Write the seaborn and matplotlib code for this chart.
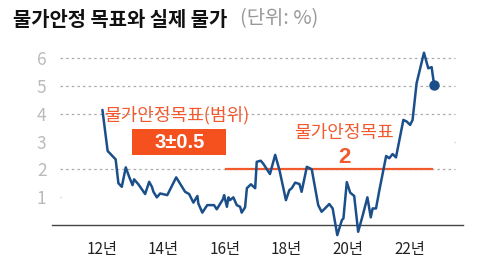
import matplotlib
matplotlib.use("Agg")
import matplotlib.pyplot as plt
from matplotlib.patches import Rectangle
import seaborn as sns
import pandas as pd

years = [2012.01, 2012.18, 2012.44, 2012.53, 2012.64, 2012.77, 2012.88, 2012.99, 2013.04, 2013.18,
         2013.40, 2013.53, 2013.62, 2013.67, 2013.78, 2013.89, 2014.12, 2014.41, 2014.70, 2014.83,
         2014.97, 2015.10, 2015.13, 2015.26, 2015.42, 2015.64, 2015.73, 2015.93, 2015.97, 2016.06,
         2016.11, 2016.16, 2016.27, 2016.38, 2016.49, 2016.54, 2016.65, 2016.71, 2016.84, 2016.98,
         2017.03, 2017.16, 2017.25, 2017.46, 2017.63, 2017.77, 2017.98, 2018.09, 2018.17, 2018.28,
         2018.42, 2018.49, 2018.66, 2018.82, 2019.03, 2019.14, 2019.25, 2019.39, 2019.50, 2019.65,
         2019.80, 2019.85, 2019.96, 2020.07, 2020.20, 2020.33, 2020.48, 2020.63, 2020.74, 2020.80,
         2020.91, 2021.02, 2021.24, 2021.34, 2021.45, 2021.56, 2021.80, 2021.91, 2022.02, 2022.10,
         2022.23, 2022.47, 2022.61, 2022.72, 2022.80]
cpi = [4.14, 2.66, 2.36, 1.50, 1.37, 2.07, 1.73, 1.43, 1.64, 1.46,
       1.11, 1.55, 1.37, 1.19, 0.99, 1.13, 1.07, 1.71, 1.19, 1.11,
       0.80, 1.04, 0.77, 0.44, 0.71, 0.71, 0.56, 0.92, 1.07, 0.65,
       0.99, 0.89, 0.99, 0.71, 0.65, 0.44, 0.63, 1.32, 1.46, 1.32,
       2.27, 2.31, 2.19, 1.83, 2.52, 1.97, 0.89, 1.25, 1.32, 1.52,
       1.47, 1.19, 2.09, 2.00, 0.71, 0.47, 0.59, 0.75, 0.59, -0.37,
       0.17, 0.23, 1.54, 1.16, 1.04, -0.25, 0.35, 0.99, 0.27, 0.59,
       0.59, 1.25, 2.48, 2.40, 2.55, 2.43, 3.78, 3.72, 3.60, 3.78,
       5.10, 6.20, 5.64, 5.68, 5.04]

target_start, target_end, target_value = 2016.0, 2022.77, 2.0
major_ticks = [2012, 2014, 2016, 2018, 2020, 2022]
major_labels = ["12년", "14년", "16년", "18년", "20년", "22년"]
minor_ticks = [2013, 2015, 2017, 2019, 2021]
y_ticks = [1, 2, 3, 4, 5, 6]
grid_levels = [2, 4, 5, 6]

sns.set_style("white")
plt.rcParams['font.family'] = ['Noto Sans CJK KR', 'DejaVu Sans']

df = pd.DataFrame({"year": years, "cpi": cpi})

fig = plt.figure(figsize=(5.0, 2.68), dpi=100)
ax = fig.add_axes([52/500, 0.1093, 411/500, 0.725])

BLUE = "#1b4f8a"
RED = "#f25a2e"
BOX = "#f4511e"

x0, x1 = 2010.37, 2023.74
gl, gr = 2010.63, 2023.48
ax.hlines(grid_levels, gl, gr, colors="#aaaaaa", linestyles=(0, (2, 2.5)), linewidth=0.9, zorder=1)
ax.hlines([1, 3], [gl, gr - 0.04], [gl + 0.04, gr], colors="#bbbbbb", linewidth=0.9, zorder=1)

ax.hlines(target_value, target_start, target_end, colors=RED, linewidth=1.6, zorder=2)

sns.lineplot(data=df, x="year", y="cpi", ax=ax, color=BLUE, linewidth=1.8, zorder=3, clip_on=False)
ax.plot([years[-1]], [cpi[-1]], "o", color=BLUE, markersize=6.5, zorder=4)

ax.set_xlim(x0, x1)
ax.set_ylim(-0.5, 6.5)
ax.set_xlabel("")
ax.set_ylabel("")

for s in ["top", "right", "left"]:
    ax.spines[s].set_visible(False)
ax.spines["bottom"].set_position(("data", 0))
ax.spines["bottom"].set_color("#444444")
ax.spines["bottom"].set_linewidth(1.0)

ax.set_xticks(major_ticks)
ax.set_xticklabels(major_labels)
ax.set_xticks(minor_ticks, minor=True)
ax.tick_params(axis="x", which="major", direction="in", length=5, width=1.0, color="#333333",
               pad=12, labelsize=11, labelcolor="#222222")
ax.tick_params(axis="x", which="minor", direction="in", length=5, width=1.0, color="#bbbbbb")

ax.set_yticks(y_ticks)
ax.set_yticklabels([str(v) for v in y_ticks])
ax.tick_params(axis="y", length=0, pad=4, labelsize=12.5, labelcolor="#bbbbbb")

# annotations
ax.text(2012.08, 3.95, "물가안정목표(범위)", color=RED, fontsize=13, ha="left", va="center")
ax.add_patch(Rectangle((2012.98, 2.51), 3.06, 0.94, facecolor=BOX, edgecolor="none", zorder=2))
ax.text(2014.51, 2.96, "3±0.5", color="white", fontsize=14.5, fontweight="bold", ha="center", va="center",
        family=["Liberation Sans"], zorder=3)
ax.text(2019.87, 3.31, "물가안정목표", color=RED, fontsize=13, ha="center", va="center")
ax.text(2019.87, 2.44, "2", color=RED, fontsize=16, fontweight="bold", ha="center", va="center",
        family=["Liberation Sans"])

fig.text(13/500, 1 - 19/268, "물가안정 목표와 실제 물가", fontsize=14.3, fontweight="bold",
         color="#111111", ha="left", va="center")
fig.text(240/500, 1 - 19/268, "(단위: %)", fontsize=14.3, color="#999999", ha="left", va="center")

fig.savefig("out.png", dpi=100)
